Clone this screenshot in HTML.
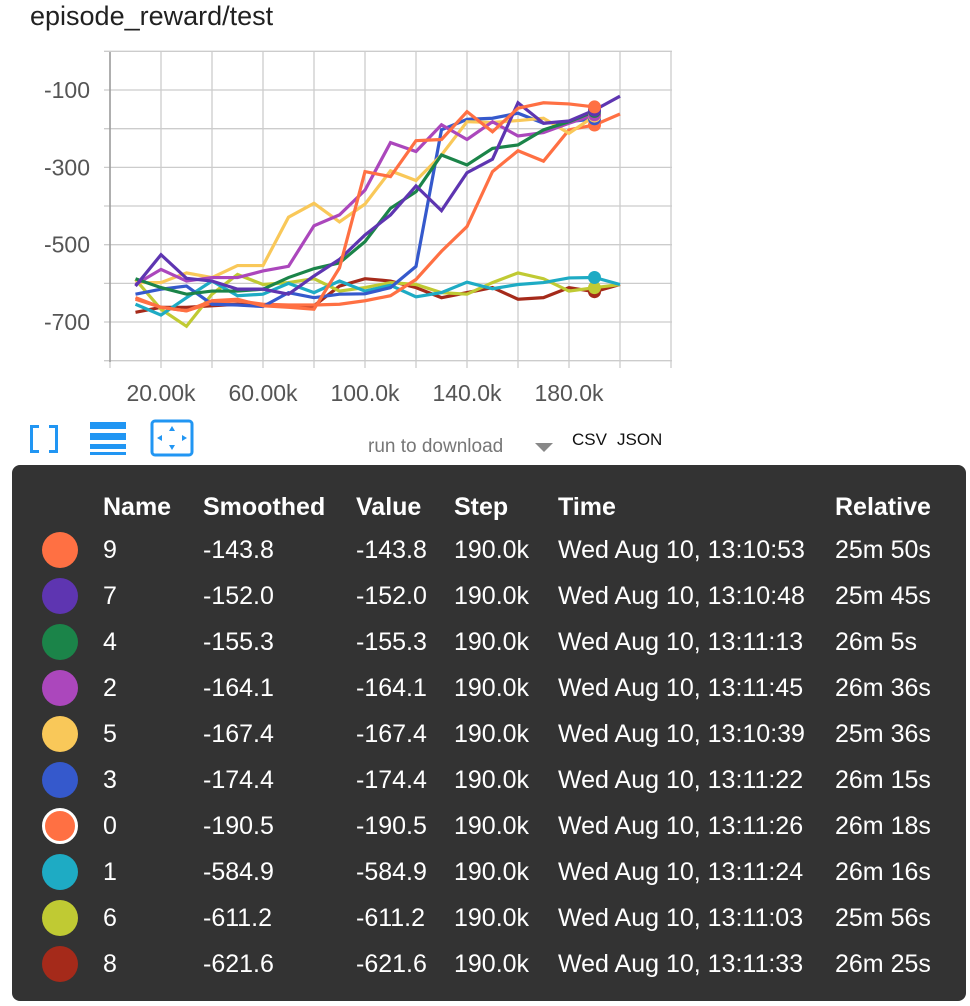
<!DOCTYPE html>
<html><head><meta charset="utf-8"><style>
body{margin:0;width:970px;height:1006px;background:#fff;font-family:"Liberation Sans",sans-serif;position:relative;overflow:hidden}
#title{position:absolute;left:30px;top:1px;font-size:27px;color:#212121}
#panel{position:absolute;left:12px;top:465px;width:954px;height:536px;background:#333;border-radius:8px}
table{position:absolute;left:0;top:22px;border-collapse:collapse;color:#fff;font-size:25px}
td{height:46px;padding:0;white-space:nowrap}
th{height:40px;text-align:left;font-size:25px;padding:0}
.dot{display:inline-block;width:36px;height:36px;border-radius:50%;vertical-align:middle}
</style></head><body>
<div id="title">episode_reward/test</div>
<svg id="chart" width="970" height="410" style="position:absolute;left:0;top:0"></svg>
<svg width="970" height="470" style="position:absolute;left:0;top:0">
 <g fill="#2196f3">
  <rect x="30" y="425" width="3" height="28"/><rect x="30" y="425" width="9" height="3"/><rect x="30" y="450" width="9" height="3"/>
  <rect x="55" y="425" width="3" height="28"/><rect x="49" y="425" width="9" height="3"/><rect x="49" y="450" width="9" height="3"/>
 </g>
 <g fill="#2196f3">
  <rect x="90" y="422" width="36" height="7"/><rect x="90" y="433" width="36" height="7"/><rect x="90" y="444" width="36" height="5"/><rect x="90" y="452" width="36" height="3"/>
 </g>
 <g>
  <rect x="152" y="421" width="40" height="34" rx="3" fill="none" stroke="#2196f3" stroke-width="3"/>
  <polygon points="172,426 169,431 175,431" fill="#2196f3"/><polygon points="172,450 169,445 175,445" fill="#2196f3"/>
  <polygon points="157,438 162,435 162,441" fill="#2196f3"/><polygon points="187,438 182,435 182,441" fill="#2196f3"/>
 </g>
 <text x="368" y="452" font-size="19" fill="#777">run to download</text>
 <polygon points="535,443 553,443 544,452" fill="#888"/>
 <rect x="368" y="468" width="200" height="2" fill="#222"/>
 <text x="572" y="445" font-size="17" fill="#111">CSV</text>
 <text x="617" y="445" font-size="17" fill="#111">JSON</text>
</svg>
<div id="panel">
<table>
<colgroup><col style="width:91px"><col style="width:100px"><col style="width:153px"><col style="width:98px"><col style="width:104px"><col style="width:277px"><col style="width:120px"></colgroup>
<tr><th></th><th>Name</th><th>Smoothed</th><th>Value</th><th>Step</th><th>Time</th><th>Relative</th></tr>
<tbody id="rows"></tbody>
</table>
</div>
<script>
const steps=[10,20,30,40,50,60,70,80,90,100,110,120,130,140,150,160,170,180,190,200];
const s9=[-637,-662,-671,-645,-641,-658,-662,-667,-560,-311,-324,-231,-228,-156,-208,-147,-133,-136,-143.8];
const s7=[-607,-526,-587,-594,-615,-615,-628,-581,-538,-475,-423,-348,-412,-314,-279,-133,-186,-180,-152,-116];
const s4=[-588,-611,-628,-620,-620,-615,-585,-562,-547,-492,-406,-363,-268,-294,-251,-242,-203,-182,-155.3];
const s2=[-603,-564,-594,-585,-585,-568,-556,-451,-423,-359,-236,-259,-190,-228,-182,-219,-210,-186,-164.1];
const s5=[-598,-598,-573,-585,-554,-554,-429,-393,-441,-395,-309,-334,-268,-182,-184,-179,-173,-212,-167.4];
const s3=[-628,-615,-607,-654,-656,-660,-624,-637,-628,-627,-611,-556,-203,-176,-173,-160,-186,-182,-174.4];
const s0=[-641,-662,-671,-650,-645,-654,-656,-656,-654,-645,-632,-590,-517,-453,-311,-257,-284,-203,-190.5,-162];
const s1=[-654,-682,-637,-594,-632,-628,-600,-624,-594,-620,-605,-635,-624,-597,-614,-603,-598,-586,-584.9,-603];
const s6=[-590,-667,-711,-628,-577,-603,-598,-588,-620,-611,-598,-603,-624,-628,-598,-573,-588,-620,-611.2,-603];
const s8=[-675,-662,-662,-658,-654,-656,-660,-658,-607,-588,-594,-611,-637,-624,-611,-641,-637,-611,-621.6,-603];
const yTicks=[-100,-300,-500,-700];
const xTicks=[20,60,100,140,180];
const xTickLabels=["20.00k","60.00k","100.0k","140.0k","180.0k"];
const runs=[
 {name:"9",c:"#ff7043",d:s9,t:"Wed Aug 10, 13:10:53",r:"25m 50s"},
 {name:"7",c:"#5e35b1",d:s7,t:"Wed Aug 10, 13:10:48",r:"25m 45s"},
 {name:"4",c:"#1b8449",d:s4,t:"Wed Aug 10, 13:11:13",r:"26m 5s"},
 {name:"2",c:"#ab47bc",d:s2,t:"Wed Aug 10, 13:11:45",r:"26m 36s"},
 {name:"5",c:"#f9c859",d:s5,t:"Wed Aug 10, 13:10:39",r:"25m 36s"},
 {name:"3",c:"#3559cc",d:s3,t:"Wed Aug 10, 13:11:22",r:"26m 15s"},
 {name:"0",c:"#ff7043",d:s0,t:"Wed Aug 10, 13:11:26",r:"26m 18s",ring:true},
 {name:"1",c:"#1eabc4",d:s1,t:"Wed Aug 10, 13:11:24",r:"26m 16s"},
 {name:"6",c:"#c0ca33",d:s6,t:"Wed Aug 10, 13:11:03",r:"25m 56s"},
 {name:"8",c:"#a52a1a",d:s8,t:"Wed Aug 10, 13:11:33",r:"26m 25s"}];
const X=k=>110+2.55*k, Y=v=>90+(-100-v)*0.3867;
const NS="http://www.w3.org/2000/svg", svg=document.getElementById('chart');
function mk(tag,a,p){const e=document.createElementNS(NS,tag);for(const k in a)e.setAttribute(k,a[k]);(p||svg).appendChild(e);return e;}
for(let v=0;v>=-800;v-=100){const l=mk('line',{x1:104,x2:672,y1:Y(v),y2:Y(v),stroke:'#ccc','stroke-width':1.3});

}
for(let k=0;k<=220;k+=20){const l=mk('line',{x1:X(k),x2:X(k),y1:52,y2:368,stroke:'#ccc','stroke-width':1.3});

}
mk('line',{x1:110,x2:110,y1:52,y2:362,stroke:'#999','stroke-width':1.5});
yTicks.forEach(v=>{const t=mk('text',{x:90,y:Y(v)+8,'text-anchor':'end','font-size':23,fill:'#555'});t.textContent=v;

});
xTicks.forEach((k,i)=>{const t=mk('text',{x:X(k),y:401,'text-anchor':'middle','font-size':23,fill:'#555'});t.textContent=xTickLabels[i];

});
[...runs].reverse().forEach(r=>{const p=mk('polyline',{points:r.d.map((v,i)=>X(steps[i])+','+Y(v)).join(' '),fill:'none',stroke:r.c,'stroke-width':3.2,'stroke-linejoin':'miter'});

});
[...runs].reverse().forEach(r=>{const c=mk('circle',{cx:X(190),cy:Y(r.d[18]),r:6.5,fill:r.c});

});
const tb=document.getElementById('rows');
runs.forEach(r=>{const tr=document.createElement('tr');


const v=r.d[18].toFixed(1);
tr.innerHTML='<td style="padding-left:30px"><span class="dot" style="background:'+r.c+(r.ring?';box-sizing:border-box;border:3px solid #fff':'')+'"></span></td><td>'+r.name+'</td><td>'+v+'</td><td>'+v+'</td><td>190.0k</td><td>'+r.t+'</td><td>'+r.r+'</td>';
tb.appendChild(tr);});
</script>
</body></html>
